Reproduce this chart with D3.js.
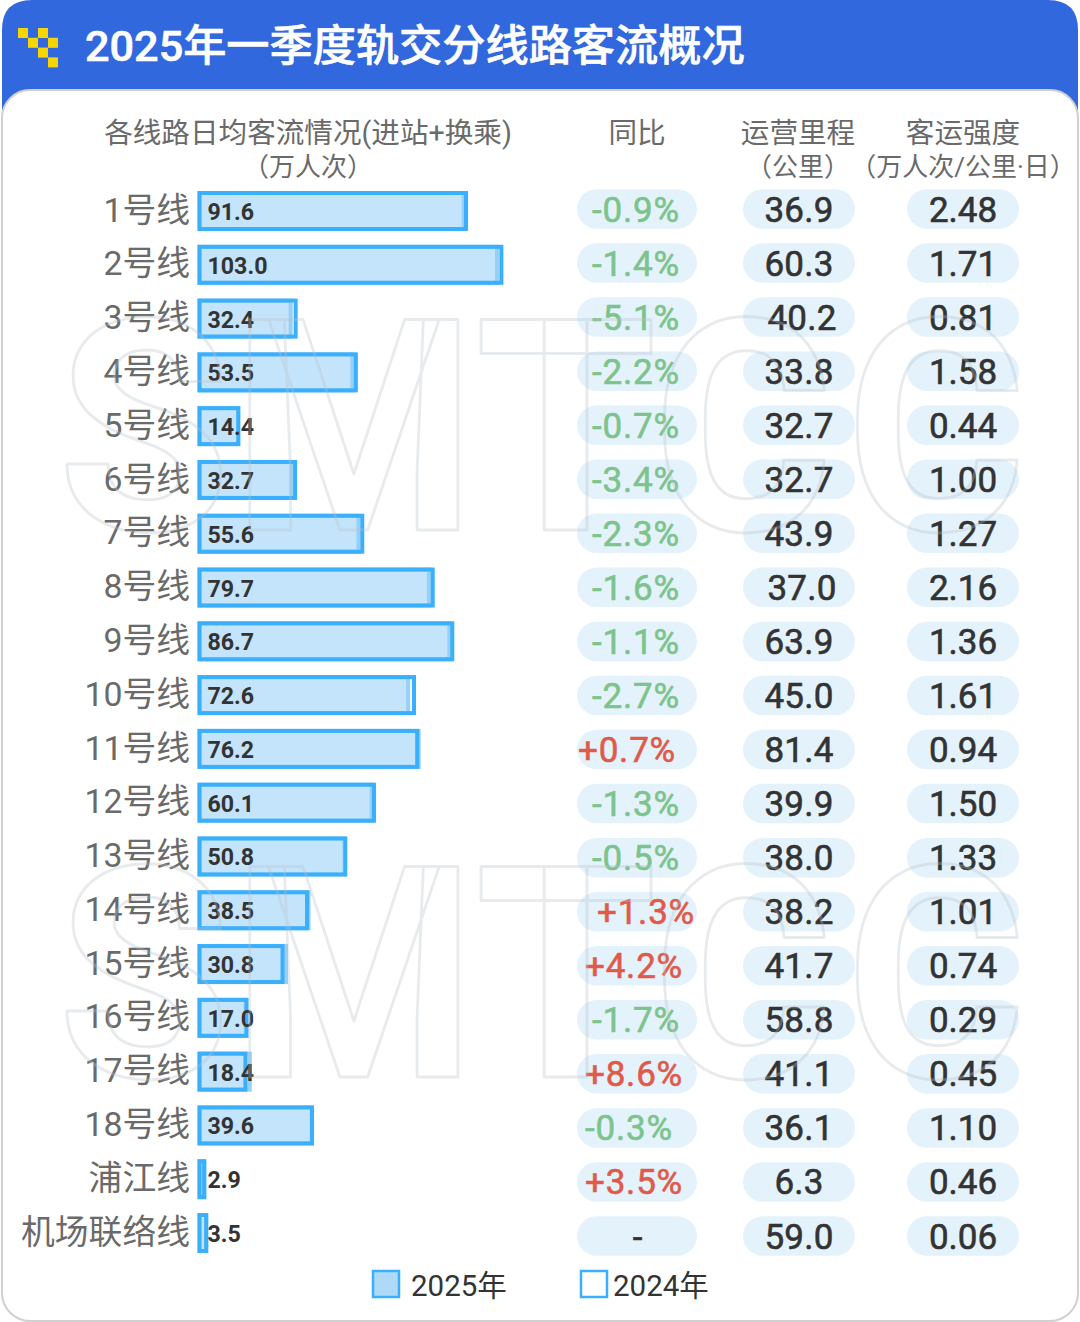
<!DOCTYPE html>
<html>
<head>
<meta charset="utf-8">
<script src="https://cdn.jsdelivr.net/npm/d3@7"></script>
<style>
  html, body { margin: 0; padding: 0; background: #fff; }
  svg { display: block; }
  text { font-family: Roboto, "Noto Sans CJK SC", sans-serif; }
</style>
</head>
<body>
<div id="chart"></div>
<script>
  "use strict";

  var lines = ["1号线", "2号线", "3号线", "4号线", "5号线", "6号线", "7号线", "8号线", "9号线", "10号线",
    "11号线", "12号线", "13号线", "14号线", "15号线", "16号线", "17号线", "18号线", "浦江线", "机场联络线"];
  var riders2025 = [91.6, 103.0, 32.4, 53.5, 14.4, 32.7, 55.6, 79.7, 86.7, 72.6,
    76.2, 60.1, 50.8, 38.5, 30.8, 17.0, 18.4, 39.6, 2.9, 3.5];
  var riders2024 = [92.4, 104.5, 34.1, 54.7, 14.5, 33.9, 56.9, 81.0, 87.7, 74.6,
    75.7, 60.9, 51.1, 38.0, 29.6, 17.3, 16.9, 39.7, 2.8, 3.5];
  var yoy = [-0.9, -1.4, -5.1, -2.2, -0.7, -3.4, -2.3, -1.6, -1.1, -2.7,
    0.7, -1.3, -0.5, 1.3, 4.2, -1.7, 8.6, -0.3, 3.5, null];
  var mileage = [36.9, 60.3, 40.2, 33.8, 32.7, 32.7, 43.9, 37.0, 63.9, 45.0,
    81.4, 39.9, 38.0, 38.2, 41.7, 58.8, 41.1, 36.1, 6.3, 59.0];
  var intensity = [2.48, 1.71, 0.81, 1.58, 0.44, 1.00, 1.27, 2.16, 1.36, 1.61,
    0.94, 1.50, 1.33, 1.01, 0.74, 0.29, 0.45, 1.10, 0.46, 0.06];
  var legendLabels = ["2025年", "2024年"];
  var watermark = ["S", "M", "T", "C", "C"];

  var width = 1080, height = 1322;
  var BLUE = "#3aaffc", BLUE_SOFT = "#96d0f8", FILL = "#c4e4fb", PILL = "#e4f2fc";
  var DARK = "#333", GREY = "#6a6a6a", GREEN = "#7cc48c", RED = "#e05a4a";

  var svg = d3.select("#chart").append("svg").attr("width", width).attr("height", height);

  /* Header band and card */
  svg.append("path")
    .attr("fill", "#3268dd")
    .attr("d", "M2 130V30Q2 0 32 0H1048Q1078 0 1078 30V130Z");
  svg.append("rect")
    .attr("x", 2).attr("y", 90).attr("width", 1076).attr("height", 1231).attr("rx", 28)
    .attr("fill", "#fff").attr("stroke", "#d0d0d0").attr("stroke-width", 2);

  var logoCells = [[0, 0], [2, 0], [1, 1], [3, 1], [2, 2], [3, 3]];
  svg.selectAll("rect.logo").data(logoCells).enter().append("rect")
    .attr("class", "logo")
    .attr("x", function (d) { return 18 + d[0] * 10; })
    .attr("y", function (d) { return 28 + d[1] * 9.8; })
    .attr("width", 10).attr("height", 10)
    .attr("fill", "#f7d600");

  svg.append("text")
    .attr("x", 85).attr("y", 61)
    .attr("fill", "#fff").attr("stroke", "#fff").attr("stroke-width", 0.6)
    .attr("font-size", 43.2).attr("font-weight", 500)
    .text("2025年一季度轨交分线路客流概况");

  /* Column headers */
  var headers = [
    { x: 308, y: 143, size: 28.6, text: "各线路日均客流情况(进站+换乘)" },
    { x: 308, y: 176, size: 26, text: "（万人次）" },
    { x: 637, y: 143, size: 28.6, text: "同比" },
    { x: 798, y: 143, size: 28.6, text: "运营里程" },
    { x: 798, y: 176, size: 26, text: "（公里）" },
    { x: 963, y: 143, size: 28.6, text: "客运强度" },
    { x: 963, y: 176, size: 26, text: "（万人次/公里·日）" }
  ];
  svg.selectAll("text.head").data(headers).enter().append("text")
    .attr("class", "head")
    .attr("x", function (d) { return d.x; })
    .attr("y", function (d) { return d.y; })
    .attr("font-size", function (d) { return d.size; })
    .attr("text-anchor", "middle")
    .attr("fill", GREY)
    .text(function (d) { return d.text; });

  /* Scales */
  var x = d3.scaleLinear().domain([0, 103]).range([198, 499]);
  var yBar = d3.scalePoint().domain(lines).range([211, 1233]);
  var yPill = d3.scalePoint().domain(lines).range([209, 1236]);

  /* Category labels */
  var axis = svg.append("g")
    .attr("transform", "translate(197,0)")
    .call(d3.axisLeft(yBar).tickSize(0).tickPadding(7));
  axis.select(".domain").remove();
  axis.selectAll("text")
    .attr("font-size", 33.8)
    .attr("dy", "0.3em")
    .attr("fill", GREY)
    .style("font-family", 'Roboto, "Noto Sans CJK SC", sans-serif');

  /* Bars: 2025 filled, 2024 outline on top */
  var barH = 40, sw = 4;
  function barRect(sel, values) {
    sel.attr("x", x(0) + sw / 2 - 0.5)
      .attr("y", function (d) { return yBar(d) - barH / 2 + sw / 2; })
      .attr("width", function (d, i) { return Math.max(x(values[i]) - x(0) - sw + 0.5, 0.5); })
      .attr("height", barH - sw)
      .attr("stroke-width", sw);
  }
  svg.selectAll("rect.y2025").data(lines).enter().append("rect")
    .attr("class", "y2025")
    .attr("fill", FILL).attr("stroke", BLUE_SOFT)
    .call(barRect, riders2025);
  svg.selectAll("rect.y2024").data(lines).enter().append("rect")
    .attr("class", "y2024")
    .attr("fill", "none").attr("stroke", BLUE)
    .call(barRect, riders2024);

  svg.selectAll("text.val").data(lines).enter().append("text")
    .attr("class", "val")
    .attr("x", 207.5)
    .attr("y", function (d) { return yBar(d) + 9; })
    .attr("font-size", 23.2).attr("font-weight", 700)
    .attr("fill", DARK)
    .text(function (d, i) { return riders2025[i].toFixed(1); });

  /* Pill columns */
  function yoyText(v) {
    if (v === null) { return "-"; }
    return (v > 0 ? "+" : "-") + Math.abs(v).toFixed(1) + "%";
  }
  function yoyColor(v) {
    if (v === null) { return DARK; }
    return v > 0 ? RED : GREEN;
  }
  // the source's text is not quite centred in some pills, row index -> px
  var nudgeYoy = { 10: -9, 13: 10, 14: -2, 16: -2, 17: -7, 18: -2, 19: 2 };
  var nudgeMileage = { 2: 3, 7: 3 };
  var columns = [
    { cx: 636, px: 637, w: 120, text: yoyText, color: yoyColor, values: yoy, nudge: nudgeYoy, ls: 0.8 },
    { cx: 799, px: 799, w: 112, text: function (v) { return v.toFixed(1); }, color: function () { return DARK; }, values: mileage, nudge: nudgeMileage, ls: 0.2 },
    { cx: 963, px: 963, w: 112, text: function (v) { return v.toFixed(2); }, color: function () { return DARK; }, values: intensity, nudge: {}, ls: 0 }
  ];
  var pillH = 39.5;
  columns.forEach(function (col, c) {
    var g = svg.append("g").attr("class", "col" + c);
    g.selectAll("rect").data(lines).enter().append("rect")
      .attr("x", col.px - col.w / 2)
      .attr("y", function (d) { return yPill(d) - pillH / 2; })
      .attr("width", col.w).attr("height", pillH).attr("rx", pillH / 2)
      .attr("fill", PILL);
    g.selectAll("text").data(lines).enter().append("text")
      .attr("x", function (d, i) { return col.cx + (col.nudge[i] || 0); })
      .attr("y", function (d) { return yPill(d) + 12.5; })
      .attr("text-anchor", "middle")
      .attr("font-size", 35)
      .attr("letter-spacing", col.ls)
      .attr("fill", function (d, i) { return col.color(col.values[i]); })
      .attr("stroke", function (d, i) { return col.color(col.values[i]); })
      .attr("stroke-width", 0.6)
      .text(function (d, i) { return col.text(col.values[i]); });
  });

  /* Legend */
  var legend = svg.selectAll("g.legend").data(legendLabels).enter().append("g")
    .attr("class", "legend")
    .attr("transform", function (d, i) { return "translate(" + (i === 0 ? 373 : 581) + ",1271)"; });
  legend.append("rect")
    .attr("width", 26).attr("height", 26)
    .attr("fill", function (d, i) { return i === 0 ? "#aedaf8" : "#fff"; })
    .attr("stroke", BLUE).attr("stroke-width", 2.5);
  legend.append("text")
    .attr("x", function (d, i) { return i === 0 ? 38 : 32; })
    .attr("y", 25)
    .attr("font-size", 29.5)
    .attr("fill", DARK)
    .text(function (d) { return d; });

  /* Watermark: outlined letters over everything, twice */
  var markX = [144, 354, 566, 743, 936];
  var markScale = [0.95, 0.94, 0.99, 0.93, 0.93];
  [530, 1077].forEach(function (base) {
    svg.append("g").attr("class", "watermark")
      .selectAll("text").data(watermark).enter().append("text")
      .attr("transform", function (d, i) {
        return "translate(" + markX[i] + "," + base + ") scale(" + markScale[i] + ",1)";
      })
      .attr("text-anchor", "middle")
      .attr("font-size", 296).attr("font-weight", 700)
      .attr("fill", "none")
      .attr("stroke", "#b9c2c8").attr("stroke-opacity", 0.32)
      .attr("stroke-width", 3).attr("stroke-linejoin", "round")
      .text(function (d) { return d; });
  });
</script>
</body>
</html>
